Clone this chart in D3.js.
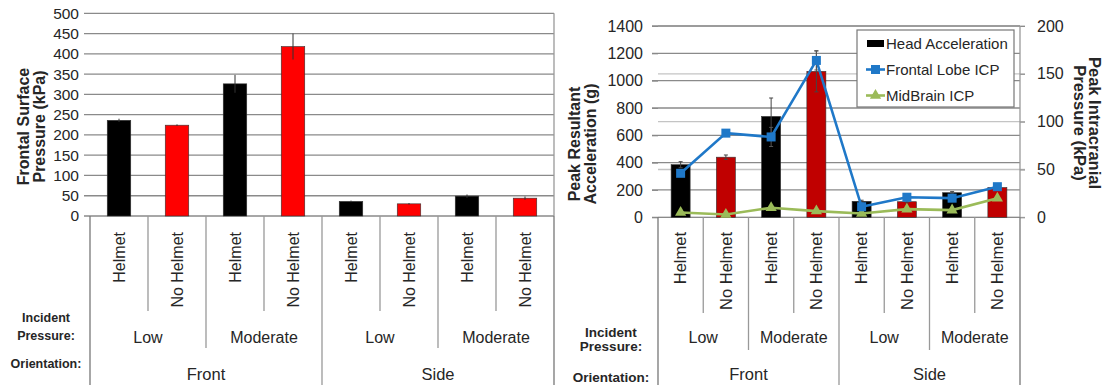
<!DOCTYPE html>
<html>
<head>
<meta charset="utf-8">
<script src="https://cdn.jsdelivr.net/npm/d3@7"></script>
<style>
  body { margin: 0; background: #fff; }
  svg { display: block; font-family: "Liberation Sans", Arial, sans-serif; }
</style>
</head>
<body>
<svg id="chart" width="1111" height="385"></svg>
<script>
// ---- data ----
const conditions = ['Helmet', 'No Helmet', 'Helmet', 'No Helmet', 'Helmet', 'No Helmet', 'Helmet', 'No Helmet'];
const pressureLevels = ['Low', 'Moderate', 'Low', 'Moderate'];
const orientations = ['Front', 'Side'];

// left panel: frontal surface pressure (kPa)
const surfacePressure = [236, 224, 326, 418, 36, 30, 49, 44];
const surfacePressureErr = [4, 2, 22, 32, 2, 2, 4, 4];
const surfaceTicks = [0, 50, 100, 150, 200, 250, 300, 350, 400, 450, 500];

// right panel: head acceleration (g) + intracranial pressure (kPa)
const headAccel = [385, 440, 738, 1068, 117, 114, 180, 218];
const headAccelErr = [22, 16, 135, 150, 8, 8, 8, 8];
const frontalLobeICP = [46, 88, 84, 164, 11, 21, 20, 32];
const frontalLobeErr = [2, 2, 10, 10, 1, 2, 2, 2];
const midBrainICP = [5, 3, 10, 6.5, 4, 8.5, 7.5, 20];
const accelTicks = [0, 200, 400, 600, 800, 1000, 1200, 1400];
const icpTicks = [0, 50, 100, 150, 200];
const legendLabels = ['Head Acceleration', 'Frontal Lobe ICP', 'MidBrain ICP'];

const svg = d3.select('#chart');
const idx = d3.range(conditions.length);
const gridCol = '#8a8a8a', textCol = '#262626';
const plain = d3.format('d');

function errBar(g, cx, y0, y1, col, cap) {
  g.append('line').attr('x1', cx).attr('x2', cx).attr('y1', y0).attr('y2', y1)
    .attr('stroke', col).attr('stroke-width', 1);
  if (!cap) return;
  [y0, y1].forEach(yy => g.append('line').attr('x1', cx - cap).attr('x2', cx + cap)
    .attr('y1', yy).attr('y2', yy).attr('stroke', col).attr('stroke-width', 1));
}

// category area below the plot: separators + rotated labels + group labels
function drawXArea(x, o) {
  const g = svg.append('g');
  const w = x.step();
  d3.range(conditions.length + 1).forEach(i => {
    const xx = x.range()[0] + i * w;
    let end = o.innerEnd;
    if (i === 0 || i === 4 || i === 8) end = 385;
    else if (i % 2 === 0) end = o.groupEnd;
    g.append('line').attr('x1', xx).attr('x2', xx).attr('y1', o.y0).attr('y2', end)
      .attr('stroke', i === 0 || i === 8 ? '#777' : '#999').attr('stroke-width', 1.3);
  });
  g.selectAll('text.cond').data(idx).enter().append('text')
    .attr('transform', d => 'translate(' + (x(d) + x.bandwidth() / 2) + ',232) rotate(-90)')
    .attr('text-anchor', 'end').attr('dy', '0.35em')
    .attr('font-size', o.condSize).attr('fill', textCol)
    .text(d => conditions[d]);
  g.selectAll('text.lvl').data(pressureLevels).enter().append('text')
    .attr('x', (d, i) => x.range()[0] + (i * 2 + 1) * w)
    .attr('y', 343).attr('text-anchor', 'middle')
    .attr('font-size', 16).attr('fill', textCol).text(d => d);
  g.selectAll('text.ori').data(orientations).enter().append('text')
    .attr('x', (d, i) => x.range()[0] + (i * 4 + 2) * w)
    .attr('y', 380).attr('text-anchor', 'middle')
    .attr('font-size', 16.5).attr('fill', textCol).text(d => d);
  const lab = g.append('g').attr('font-weight', 'bold').attr('font-size', o.labSize)
    .attr('text-anchor', 'middle').attr('fill', textCol);
  lab.append('text').attr('x', o.labX).attr('y', o.labY[0]).text('Incident');
  lab.append('text').attr('x', o.labX).attr('y', o.labY[1]).text('Pressure:');
  lab.append('text').attr('x', o.labX).attr('y', o.labY[2]).text('Orientation:');
}

// ================= left panel =================
{
  const x = d3.scaleBand().domain(idx).range([90, 554]);
  const y = d3.scaleLinear().domain([0, 500]).range([216, 13.3]);
  const g = svg.append('g');

  g.append('g').selectAll('line').data(surfaceTicks).enter().append('line')
    .attr('x1', 84).attr('x2', 554).attr('y1', d => y(d)).attr('y2', d => y(d))
    .attr('stroke', gridCol).attr('stroke-width', 1.3);

  const bw = x.bandwidth() * 0.405;
  g.append('g').selectAll('rect').data(idx).enter().append('rect')
    .attr('x', d => x(d) + (x.bandwidth() - bw) / 2)
    .attr('y', d => y(surfacePressure[d]))
    .attr('width', bw)
    .attr('height', d => y(0) - y(surfacePressure[d]))
    .attr('fill', d => d % 2 ? '#ff0000' : '#000')
    .attr('stroke', '#333').attr('stroke-width', 0.6);

  idx.forEach(d => errBar(g, x(d) + x.bandwidth() / 2,
    y(surfacePressure[d] - surfacePressureErr[d]), y(surfacePressure[d] + surfacePressureErr[d]), '#333', 0));

  g.append('g').attr('transform', 'translate(90,0)')
    .call(d3.axisLeft(y).tickValues(surfaceTicks).tickFormat(plain).tickSize(0).tickPadding(11))
    .call(a => a.select('.domain').remove())
    .call(a => a.selectAll('text').attr('font-size', 15.5).attr('fill', textCol)
      .attr('font-family', '"Liberation Sans", Arial, sans-serif'));

  const t = g.append('text').attr('transform', 'translate(0,126.5) rotate(-90)')
    .attr('text-anchor', 'middle').attr('font-weight', 'bold').attr('font-size', 16).attr('fill', textCol);
  t.append('tspan').attr('x', 0).attr('y', 29).text('Frontal Surface');
  t.append('tspan').attr('x', 0).attr('y', 45).text('Pressure (kPa)');

  g.append('line').attr('x1', 554).attr('x2', 554).attr('y1', 13.3).attr('y2', 216)
    .attr('stroke', '#999').attr('stroke-width', 1.3);

  drawXArea(x, { y0: 216, innerEnd: 311, groupEnd: 348, condSize: 16, labSize: 12.5,
    labX: 46, labY: [321.5, 340, 368] });
}

// ================= right panel =================
{
  const x = d3.scaleBand().domain(idx).range([658, 1020]);
  const y = d3.scaleLinear().domain([0, 1400]).range([217.3, 26]);
  const yR = d3.scaleLinear().domain([0, 200]).range([217.3, 26]);
  const g = svg.append('g');
  const cx = d => x(d) + x.bandwidth() / 2;

  g.append('g').selectAll('line').data(icpTicks).enter().append('line')
    .attr('x1', 658).attr('x2', 1025).attr('y1', d => yR(d)).attr('y2', d => yR(d))
    .attr('stroke', '#c4c4c4').attr('stroke-width', 1.3);
  g.append('g').selectAll('line').data(accelTicks).enter().append('line')
    .attr('x1', 652).attr('x2', 1020).attr('y1', d => y(d)).attr('y2', d => y(d))
    .attr('stroke', gridCol).attr('stroke-width', 1.3);

  const bw = x.bandwidth() * 0.42;
  g.append('g').selectAll('rect').data(idx).enter().append('rect')
    .attr('x', d => x(d) + (x.bandwidth() - bw) / 2)
    .attr('y', d => y(headAccel[d]))
    .attr('width', bw)
    .attr('height', d => y(0) - y(headAccel[d]))
    .attr('fill', d => d % 2 ? '#c00000' : '#000')
    .attr('stroke', '#333').attr('stroke-width', 0.6);

  idx.forEach(d => errBar(g, cx(d), y(headAccel[d] - headAccelErr[d]), y(headAccel[d] + headAccelErr[d]), '#444', 2));
  idx.forEach(d => errBar(g, cx(d), yR(frontalLobeICP[d] - frontalLobeErr[d]), yR(frontalLobeICP[d] + frontalLobeErr[d]), '#555', 2));

  const line = vals => d3.line().x(d => cx(d)).y(d => yR(vals[d]))(idx);
  g.append('path').attr('d', line(midBrainICP)).attr('fill', 'none')
    .attr('stroke', '#9bbb59').attr('stroke-width', 2.6);
  g.append('path').attr('d', line(frontalLobeICP)).attr('fill', 'none')
    .attr('stroke', '#1f78c8').attr('stroke-width', 2.6);

  const tri = d3.symbol().type(d3.symbolTriangle).size(55);
  g.append('g').selectAll('path').data(idx).enter().append('path')
    .attr('d', tri).attr('transform', d => 'translate(' + cx(d) + ',' + yR(midBrainICP[d]) + ')')
    .attr('fill', '#9bbb59');
  g.append('g').selectAll('rect').data(idx).enter().append('rect')
    .attr('x', d => cx(d) - 4.5).attr('y', d => yR(frontalLobeICP[d]) - 4.5)
    .attr('width', 9).attr('height', 9).attr('fill', '#1f78c8');

  g.append('g').attr('transform', 'translate(658,0)')
    .call(d3.axisLeft(y).tickValues(accelTicks).tickFormat(plain).tickSize(6).tickPadding(9))
    .call(a => a.select('.domain').remove())
    .call(a => a.selectAll('line').attr('stroke', gridCol))
    .call(a => a.selectAll('text').attr('font-size', 16).attr('fill', textCol)
      .attr('font-family', '"Liberation Sans", Arial, sans-serif'));
  g.append('g').attr('transform', 'translate(1020,0)')
    .call(d3.axisRight(yR).tickValues(icpTicks).tickFormat(plain).tickSize(5).tickPadding(12))
    .call(a => a.select('.domain').remove())
    .call(a => a.selectAll('line').attr('stroke', gridCol))
    .call(a => a.selectAll('text').attr('font-size', 16).attr('fill', textCol)
      .attr('font-family', '"Liberation Sans", Arial, sans-serif'));

  g.append('line').attr('x1', 1020).attr('x2', 1020).attr('y1', 26).attr('y2', 217.3)
    .attr('stroke', '#999').attr('stroke-width', 1.3);

  const tl = g.append('text').attr('transform', 'translate(0,144) rotate(-90)')
    .attr('text-anchor', 'middle').attr('font-weight', 'bold').attr('font-size', 16).attr('fill', textCol);
  tl.append('tspan').attr('x', 0).attr('y', 580).text('Peak Resultant');
  tl.append('tspan').attr('x', 0).attr('y', 596).text('Acceleration (g)');

  const tr = g.append('text').attr('transform', 'translate(0,123) rotate(90)')
    .attr('text-anchor', 'middle').attr('font-weight', 'bold').attr('font-size', 16.5).attr('fill', textCol);
  tr.append('tspan').attr('x', 0).attr('y', -1088.5).text('Peak Intracranial');
  tr.append('tspan').attr('x', 0).attr('y', -1073.5).text('Pressure (kPa)');

  // legend
  const lg = g.append('g');
  lg.append('rect').attr('x', 857).attr('y', 30).attr('width', 157).attr('height', 77)
    .attr('fill', '#fff').attr('stroke', '#777').attr('stroke-width', 1.2);
  const rows = [43.5, 69.5, 95.5];
  lg.append('rect').attr('x', 867).attr('y', rows[0] - 3.5).attr('width', 17).attr('height', 7).attr('fill', '#000');
  lg.append('line').attr('x1', 866).attr('x2', 885).attr('y1', rows[1]).attr('y2', rows[1])
    .attr('stroke', '#1f78c8').attr('stroke-width', 2.6);
  lg.append('rect').attr('x', 871).attr('y', rows[1] - 4.5).attr('width', 9).attr('height', 9).attr('fill', '#1f78c8');
  lg.append('line').attr('x1', 866).attr('x2', 885).attr('y1', rows[2]).attr('y2', rows[2])
    .attr('stroke', '#9bbb59').attr('stroke-width', 2.6);
  lg.append('path').attr('d', tri).attr('transform', 'translate(875.5,' + rows[2] + ')').attr('fill', '#9bbb59');
  lg.selectAll('text').data(legendLabels).enter().append('text')
    .attr('x', 886).attr('y', (d, i) => rows[i]).attr('dy', '0.36em')
    .attr('font-size', 15).attr('fill', textCol).text(d => d);

  drawXArea(x, { y0: 217.3, innerEnd: 313, groupEnd: 350, condSize: 16.5, labSize: 13.5,
    labX: 611, labY: [336.5, 351, 382] });
}
</script>
</body>
</html>
